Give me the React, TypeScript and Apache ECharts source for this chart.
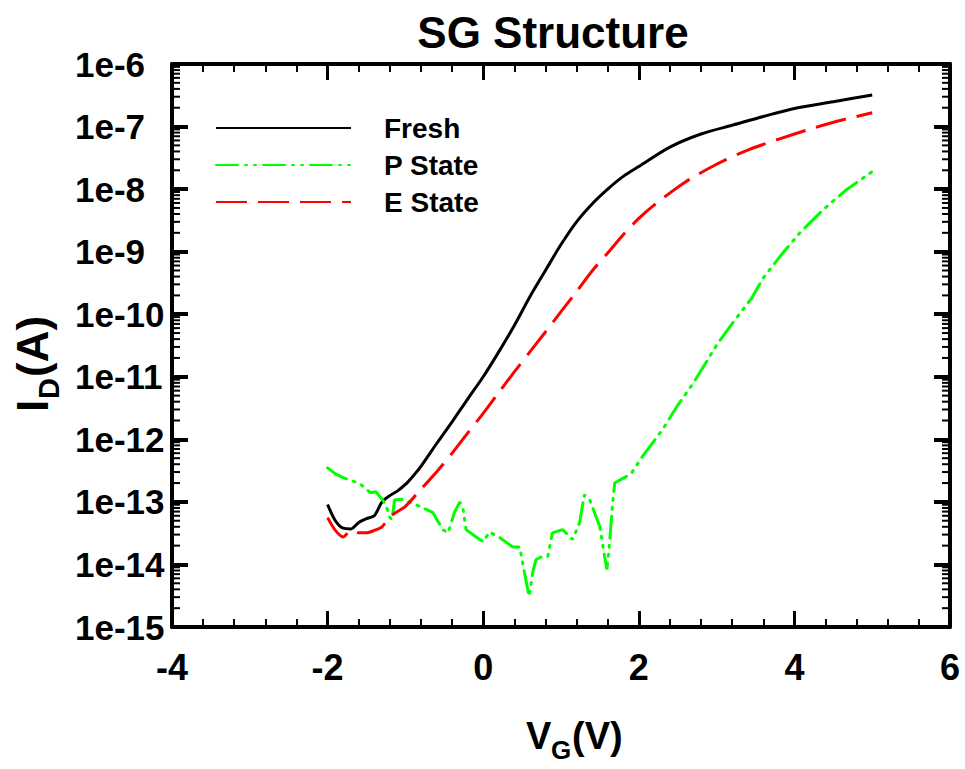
import React, { useEffect, useRef } from "react";
import * as echarts from "echarts";

// Gate voltage (V) and drain current (A)
const freshV = [-2.0, -1.9, -1.8, -1.7, -1.6, -1.5, -1.4, -1.3, -1.2, -1.1, -1.0, -0.9, -0.8, -0.6, -0.4, -0.2, 0.0, 0.2, 0.4, 0.6, 0.8, 1.0, 1.2, 1.4, 1.6, 1.8, 2.0, 2.4, 2.8, 3.2, 3.6, 4.0, 4.5, 5.0];
const freshI = [9.1e-14, 5.0e-14, 3.8e-14, 3.7e-14, 4.7e-14, 5.4e-14, 6.0e-14, 1.0e-13, 1.26e-13, 1.5e-13, 1.9e-13, 2.6e-13, 3.7e-13, 8.5e-13, 1.9e-12, 4.4e-12, 1.0e-11, 2.5e-11, 6.6e-11, 1.9e-10, 5.0e-10, 1.3e-9, 3.0e-9, 5.8e-9, 1.0e-8, 1.6e-8, 2.3e-8, 4.7e-8, 7.6e-8, 1.05e-7, 1.45e-7, 1.95e-7, 2.5e-7, 3.2e-7];

const pV = [-2.0, -1.9, -1.8, -1.7, -1.6, -1.5, -1.45, -1.38, -1.3, -1.25, -1.2, -1.17, -1.14, -1.05, -0.95, -0.82, -0.65, -0.52, -0.45, -0.37, -0.3, -0.26, -0.22, -0.1, 0.0, 0.08, 0.2, 0.38, 0.47, 0.53, 0.59, 0.64, 0.68, 0.76, 0.83, 0.89, 1.02, 1.15, 1.24, 1.3, 1.37, 1.5, 1.56, 1.59, 1.62, 1.66, 1.69, 1.8, 1.9, 2.05, 2.3, 2.5, 2.7, 3.0, 3.2, 3.45, 3.6, 3.85, 4.07, 4.37, 4.67, 5.0];
const pI = [3.5e-13, 2.8e-13, 2.45e-13, 2.2e-13, 2.0e-13, 1.6e-13, 1.4e-13, 1.45e-13, 1.1e-13, 8.9e-14, 5.6e-14, 5.2e-14, 1.07e-13, 1.1e-13, 1.0e-13, 8.5e-14, 6.8e-14, 3.6e-14, 3.2e-14, 6.8e-14, 1.0e-13, 7.9e-14, 3.6e-14, 2.8e-14, 2.3e-14, 3.3e-14, 2.75e-14, 1.9e-14, 1.9e-14, 7.4e-15, 3.1e-15, 7.9e-15, 1.2e-14, 1.35e-14, 1.35e-14, 3.2e-14, 3.6e-14, 2.5e-14, 4.7e-14, 1.3e-13, 1.07e-13, 4.0e-14, 1.35e-14, 8.3e-15, 1.9e-14, 8.3e-14, 2.0e-13, 2.4e-13, 2.8e-13, 5.4e-13, 1.4e-12, 3.5e-12, 7.9e-12, 3.2e-11, 7.1e-11, 1.8e-10, 3.8e-10, 9.5e-10, 2.0e-9, 4.7e-9, 9.8e-9, 1.9e-8];

const eV = [-2.0, -1.9, -1.8, -1.7, -1.6, -1.5, -1.4, -1.3, -1.2, -1.0, -0.8, -0.6, -0.4, -0.2, 0.0, 0.2, 0.4, 0.6, 0.8, 1.0, 1.2, 1.4, 1.6, 1.8, 2.0, 2.2, 2.6, 3.0, 3.4, 3.8, 4.2, 4.6, 5.0];
const eI = [5.6e-14, 3.5e-14, 2.75e-14, 3.5e-14, 3.2e-14, 3.2e-14, 3.5e-14, 4.0e-14, 5.8e-14, 8.5e-14, 1.6e-13, 3.0e-13, 6.0e-13, 1.26e-12, 2.6e-12, 5.6e-12, 1.2e-11, 2.5e-11, 5.2e-11, 1.1e-10, 2.3e-10, 4.9e-10, 9.5e-10, 1.86e-9, 3.4e-9, 5.6e-9, 1.3e-8, 2.5e-8, 4.2e-8, 6.3e-8, 9.1e-8, 1.26e-7, 1.66e-7];

const seriesNames = ["Fresh", "P State", "E State"];
const xMin = -4;
const xMax = 6;
const yMin = 1e-15;
const yMax = 1e-6;

// log-axis minor tick positions (2..9 x 10^n)
const minorTickValues: number[] = [];
for (let e = -15; e < -6; e++) {
  for (let m = 2; m <= 9; m++) minorTickValues.push(m * Math.pow(10, e));
}

const FONT = "'Liberation Sans', Arial, Helvetica, sans-serif";

export default function App() {
  const ref = useRef<HTMLDivElement>(null);
  useEffect(() => {
    if (!ref.current) return;
    const chart = echarts.init(ref.current, null, { renderer: "svg" });
    const toPairs = (xs: number[], ys: number[]) => xs.map((x, i) => [x, ys[i]]);

    const xCommon = {
      type: "value",
      min: xMin,
      max: xMax,
      interval: 2,
      splitLine: { show: false },
      axisLine: { show: true, onZero: false, lineStyle: { color: "#000", width: 4 } },
      axisTick: { show: true, inside: true, length: 16, lineStyle: { color: "#000", width: 3 } },
      minorTick: { show: true, splitNumber: 5, length: 8, lineStyle: { color: "#000", width: 2 } },
    };
    const yCommon = {
      type: "log",
      logBase: 10,
      min: yMin,
      max: yMax,
      interval: 1,
      splitLine: { show: false },
      axisLine: { show: true, onZero: false, lineStyle: { color: "#000", width: 4 } },
      axisTick: { show: true, inside: true, length: 16, lineStyle: { color: "#000", width: 4 } },
      minorTick: { show: false },
    };

    chart.setOption({
      animation: false,
      backgroundColor: "#fff",
      grid: { left: 172, right: 15, top: 64, bottom: 142, show: false },
      legend: {
        data: seriesNames,
        orient: "vertical",
        left: 215,
        top: 114,
        padding: 0,
        itemWidth: 135,
        itemHeight: 30,
        itemGap: 9,
        itemStyle: { opacity: 0 },
        textStyle: { fontFamily: FONT, fontWeight: "bold", fontSize: 28, color: "#000", padding: [0, 0, 0, 28] },
      },
      xAxis: [
        {
          ...xCommon,
          position: "bottom",
          axisLabel: { show: true, fontFamily: FONT, fontWeight: "bold", fontSize: 36, color: "#000", margin: 22 },
        },
        { ...xCommon, position: "top", axisLabel: { show: false } },
      ],
      yAxis: [
        {
          ...yCommon,
          position: "left",
          axisLabel: {
            show: true,
            fontFamily: FONT,
            fontWeight: "bold",
            fontSize: 35,
            color: "#000",
            align: "left",
            margin: 97,
            formatter: (v: number) => "1e" + Math.round(Math.log10(v)),
          },
        },
        { ...yCommon, position: "right", axisLabel: { show: false } },
      ],
      graphic: [
        {
          type: "text",
          x: 553,
          y: 32,
          style: { text: "SG Structure", fontFamily: FONT, fontWeight: "bold", fontSize: 44, fill: "#000", align: "center", verticalAlign: "middle" },
        },
        {
          type: "group",
          x: 526,
          y: 755,
          children: [
            { type: "text", x: 0, y: 0, style: { text: "V", fontFamily: FONT, fontWeight: "bold", fontSize: 38, fill: "#000", align: "left", verticalAlign: "bottom" } },
            { type: "text", x: 25, y: 8, style: { text: "G", fontFamily: FONT, fontWeight: "bold", fontSize: 26, fill: "#000", align: "left", verticalAlign: "bottom" } },
            { type: "text", x: 46, y: 0, style: { text: "(V)", fontFamily: FONT, fontWeight: "bold", fontSize: 38, fill: "#000", align: "left", verticalAlign: "bottom" } },
          ],
        },
        {
          type: "group",
          x: 54,
          y: 412,
          rotation: Math.PI / 2,
          children: [
            { type: "text", x: 0, y: 0, style: { text: "I", fontFamily: FONT, fontWeight: "bold", fontSize: 44, fill: "#000", align: "left", verticalAlign: "bottom" } },
            { type: "text", x: 13, y: 9, style: { text: "D", fontFamily: FONT, fontWeight: "bold", fontSize: 29, fill: "#000", align: "left", verticalAlign: "bottom" } },
            { type: "text", x: 35, y: 0, style: { text: "(A)", fontFamily: FONT, fontWeight: "bold", fontSize: 44, fill: "#000", align: "left", verticalAlign: "bottom" } },
          ],
        },
      ],
      series: [
        {
          name: "Fresh",
          type: "line",
          xAxisIndex: 0,
          yAxisIndex: 0,
          data: toPairs(freshV, freshI),
          showSymbol: false,
          symbol: "none",
          smooth: 0.3,
          lineStyle: { color: "#000000", width: 3, type: "solid" },
          itemStyle: { color: "#000000" },
        },
        {
          name: "P State",
          type: "line",
          xAxisIndex: 0,
          yAxisIndex: 0,
          data: toPairs(pV, pI),
          showSymbol: false,
          symbol: "none",
          lineStyle: { color: "#00ff00", width: 3, type: [22, 7, 2, 7, 2, 7], cap: "round" },
          itemStyle: { color: "#00ff00" },
        },
        {
          name: "E State",
          type: "line",
          xAxisIndex: 0,
          yAxisIndex: 0,
          data: toPairs(eV, eI),
          showSymbol: false,
          symbol: "none",
          smooth: 0.3,
          lineStyle: { color: "#ff0000", width: 3, type: [31, 11] },
          itemStyle: { color: "#ff0000" },
        },
        {
          name: "minorTicks",
          type: "custom",
          xAxisIndex: 0,
          yAxisIndex: 0,
          silent: true,
          clip: false,
          data: minorTickValues.map((v) => [xMin, v]),
          renderItem: (params: any, api: any) => {
            const v = api.value(1);
            const pl = api.coord([xMin, v]);
            const pr = api.coord([xMax, v]);
            return {
              type: "group",
              children: [
                { type: "line", shape: { x1: pl[0], y1: pl[1], x2: pl[0] + 8, y2: pl[1] }, style: { stroke: "#000", lineWidth: 2 } },
                { type: "line", shape: { x1: pr[0] - 8, y1: pr[1], x2: pr[0], y2: pr[1] }, style: { stroke: "#000", lineWidth: 2 } },
              ],
            };
          },
        },
      ],
    });
    return () => chart.dispose();
  }, []);
  return <div ref={ref} style={{ position: "fixed", left: 0, top: 0, width: 965, height: 769 }} />;
}
